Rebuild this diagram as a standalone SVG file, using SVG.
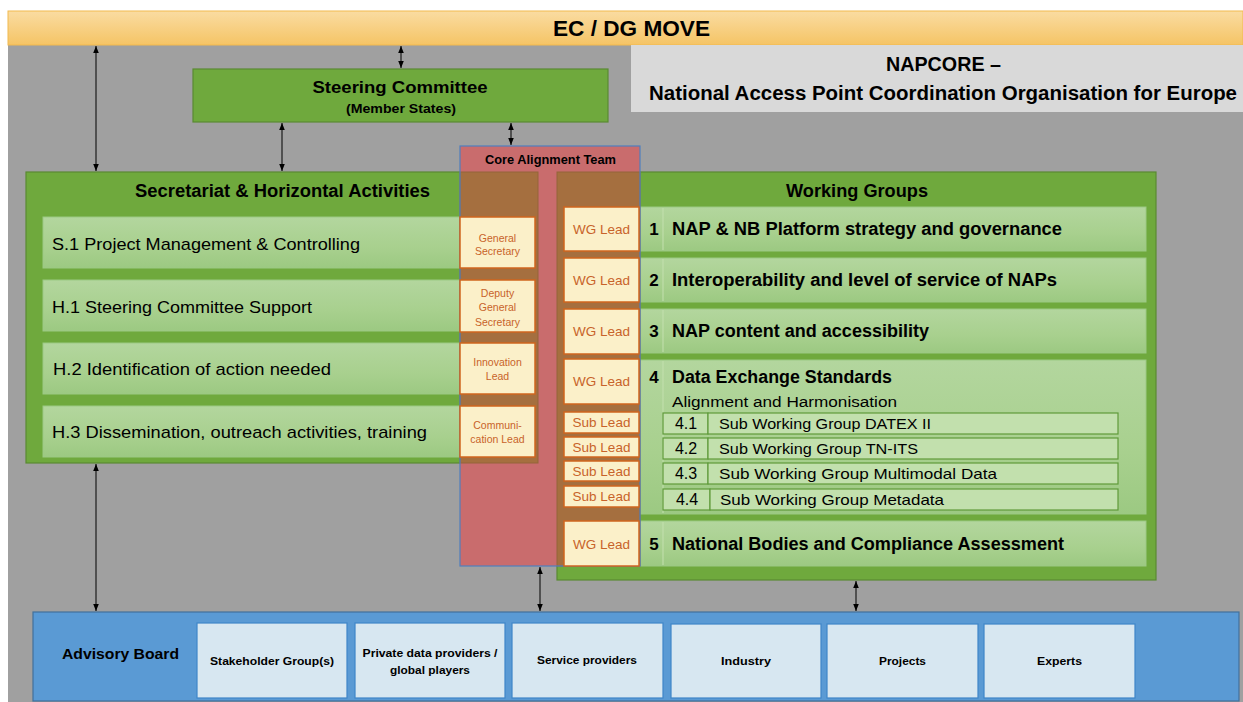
<svg xmlns="http://www.w3.org/2000/svg" width="1243" height="702" viewBox="0 0 1243 702">
<defs>
<linearGradient id="gOr" x1="0" y1="0" x2="0" y2="1"><stop offset="0" stop-color="#fadca2"/><stop offset="1" stop-color="#f5c465"/></linearGradient>
<linearGradient id="gLg" x1="0" y1="0" x2="0" y2="1"><stop offset="0" stop-color="#b3d69e"/><stop offset="0.6" stop-color="#a8d08e"/><stop offset="1" stop-color="#9cc982"/></linearGradient>
<marker id="ah" viewBox="0 0 10 10" refX="10" refY="5" markerWidth="7" markerHeight="7" orient="auto-start-reverse" markerUnits="userSpaceOnUse"><path d="M0,1 L10,5 L0,9 z" fill="#000"/></marker>
</defs>
<style>
text{font-family:"Liberation Sans",Arial,sans-serif;fill:#000}
.b{font-weight:bold}
.green{fill:#6fa93d;stroke:#5a8a32;stroke-width:1.2}
.row{fill:url(#gLg);stroke:#9cc984;stroke-width:1}
.cream{fill:#fbf0c9;stroke:#d0661e;stroke-width:1.5}
.ot{fill:#c8632a;text-anchor:middle}
.sub{fill:#c2e0ad;stroke:#5f9a3a;stroke-width:1.2}
.lb{fill:#d7e7f1;stroke:#3f86c8;stroke-width:1.2}
.conn line{stroke:#000;stroke-width:1;marker-start:url(#ah);marker-end:url(#ah)}
.m{text-anchor:middle}
</style>
<rect x="0" y="0" width="1243" height="702" fill="#ffffff"/>
<rect x="8" y="45" width="1235" height="657" fill="#a0a0a0"/>
<g id="ec-dg-move">
<rect x="8" y="11" width="1235" height="34" fill="url(#gOr)" stroke="#f2b94f" stroke-width="1"/>
<text x="631.5" y="36" class="b m" font-size="22" textLength="157" lengthAdjust="spacingAndGlyphs">EC / DG MOVE</text>
</g>
<g id="napcore-title">
<rect x="631" y="45" width="612" height="67" fill="#d9d9d9"/>
<text x="943.5" y="71" class="b m" font-size="20" textLength="115" lengthAdjust="spacingAndGlyphs">NAPCORE –</text>
<text x="943" y="100" class="b m" font-size="20" textLength="588" lengthAdjust="spacingAndGlyphs">National Access Point Coordination Organisation for Europe</text>
</g>
<g id="steering-committee">
<rect x="193" y="69" width="415" height="53" class="green"/>
<text x="400" y="93" class="b m" font-size="17" textLength="175" lengthAdjust="spacingAndGlyphs">Steering Committee</text>
<text x="401" y="113" class="b m" font-size="12.5" textLength="110" lengthAdjust="spacingAndGlyphs">(Member States)</text>
</g>
<g id="secretariat">
<rect x="26" y="172" width="512" height="291" class="green"/>
<text x="282.5" y="197" class="b m" font-size="17.5" textLength="295" lengthAdjust="spacingAndGlyphs">Secretariat &amp; Horizontal Activities</text>
<rect x="43" y="217" width="417" height="51" class="row"/>
<rect x="43" y="280" width="417" height="51" class="row"/>
<rect x="43" y="343" width="417" height="51" class="row"/>
<rect x="43" y="406" width="417" height="51" class="row"/>
<text x="52" y="250" font-size="17" textLength="308" lengthAdjust="spacingAndGlyphs">S.1 Project Management &amp; Controlling</text>
<text x="52" y="313" font-size="17" textLength="260" lengthAdjust="spacingAndGlyphs">H.1 Steering Committee Support</text>
<text x="53" y="375" font-size="17" textLength="278" lengthAdjust="spacingAndGlyphs">H.2 Identification of action needed</text>
<text x="52" y="438" font-size="17" textLength="375" lengthAdjust="spacingAndGlyphs">H.3 Dissemination, outreach activities, training</text>
</g>
<g id="working-groups">
<rect x="557" y="172" width="599" height="408" class="green"/>
<text x="857" y="197" class="b m" font-size="17.5" textLength="142" lengthAdjust="spacingAndGlyphs">Working Groups</text>
<rect x="639" y="207" width="507" height="44" class="row"/>
<rect x="639" y="258" width="507" height="44" class="row"/>
<rect x="639" y="309" width="507" height="44" class="row"/>
<rect x="639" y="360" width="507" height="154" class="row"/>
<rect x="639" y="521" width="507" height="45" class="row"/>
<g stroke="#c3e0ae" stroke-width="1">
<line x1="663" y1="208" x2="663" y2="250"/>
<line x1="663" y1="259" x2="663" y2="301"/>
<line x1="663" y1="310" x2="663" y2="352"/>
<line x1="663" y1="361" x2="663" y2="513"/>
<line x1="663" y1="522" x2="663" y2="565"/>
</g>
<g class="b" font-size="17">
<text x="654" y="235" class="m">1</text>
<text x="654" y="286" class="m">2</text>
<text x="654" y="337" class="m">3</text>
<text x="654" y="383" class="m">4</text>
<text x="654" y="550" class="m">5</text>
</g>
<g class="b" font-size="18">
<text x="672" y="235" textLength="390" lengthAdjust="spacingAndGlyphs">NAP &amp; NB Platform strategy and governance</text>
<text x="672" y="286" textLength="385" lengthAdjust="spacingAndGlyphs">Interoperability and level of service of NAPs</text>
<text x="672" y="337" textLength="257" lengthAdjust="spacingAndGlyphs">NAP content and accessibility</text>
<text x="672" y="383" textLength="220" lengthAdjust="spacingAndGlyphs">Data Exchange Standards</text>
<text x="672" y="550" textLength="392" lengthAdjust="spacingAndGlyphs">National Bodies and Compliance Assessment</text>
</g>
<text x="672" y="407" font-size="15.5" textLength="225" lengthAdjust="spacingAndGlyphs">Alignment and Harmonisation</text>
<rect x="663" y="413" width="45" height="21" class="sub"/>
<rect x="708" y="413" width="410" height="21" class="sub"/>
<rect x="663" y="438" width="45" height="21" class="sub"/>
<rect x="708" y="438" width="410" height="21" class="sub"/>
<rect x="663" y="463" width="45" height="21" class="sub"/>
<rect x="708" y="463" width="410" height="21" class="sub"/>
<rect x="663" y="489" width="47" height="21" class="sub"/>
<rect x="710" y="489" width="408" height="21" class="sub"/>
<g font-size="16">
<text x="686" y="429" class="m">4.1</text>
<text x="686" y="454" class="m">4.2</text>
<text x="686" y="479" class="m">4.3</text>
<text x="687" y="505" class="m">4.4</text>
</g>
<g font-size="15">
<text x="719" y="429" textLength="212" lengthAdjust="spacingAndGlyphs">Sub Working Group DATEX II</text>
<text x="719" y="454" textLength="199" lengthAdjust="spacingAndGlyphs">Sub Working Group TN-ITS</text>
<text x="719" y="479" textLength="278" lengthAdjust="spacingAndGlyphs">Sub Working Group Multimodal Data</text>
<text x="720" y="505" textLength="224" lengthAdjust="spacingAndGlyphs">Sub Working Group Metadata</text>
</g>
</g>
<g id="core-alignment-team">
<rect x="460" y="146" width="180" height="420" fill="#c96c6d"/>
<rect x="460" y="172" width="78" height="291" fill="#a56f3f" stroke="#94643a" stroke-width="1"/>
<rect x="557" y="172" width="83" height="394" fill="#a56f3f" stroke="#94643a" stroke-width="1"/>
<rect x="460" y="146" width="180" height="420" fill="none" stroke="#4f7fbf" stroke-width="1.2"/>
<text x="550.5" y="164" class="b m" font-size="12" textLength="131" lengthAdjust="spacingAndGlyphs">Core Alignment Team</text>
</g>
<g id="secretariat-roles">
<rect x="460" y="217" width="75" height="51" class="cream"/>
<rect x="460" y="280" width="75" height="52" class="cream"/>
<rect x="460" y="343" width="75" height="51" class="cream"/>
<rect x="460" y="406" width="75" height="51" class="cream"/>
<g font-size="10.5">
<text x="497.5" y="242" class="ot">General</text>
<text x="497.5" y="255" class="ot">Secretary</text>
<text x="497.5" y="297" class="ot">Deputy</text>
<text x="497.5" y="311" class="ot">General</text>
<text x="497.5" y="326" class="ot">Secretary</text>
<text x="497.5" y="366" class="ot">Innovation</text>
<text x="497.5" y="380" class="ot">Lead</text>
<text x="497.5" y="429" class="ot">Communi-</text>
<text x="497.5" y="443" class="ot">cation Lead</text>
</g>
</g>
<g id="wg-leads">
<rect x="564" y="207" width="75" height="44" class="cream"/>
<rect x="564" y="258" width="75" height="44" class="cream"/>
<rect x="564" y="309" width="75" height="45" class="cream"/>
<rect x="564" y="359" width="75" height="45" class="cream"/>
<rect x="564" y="412" width="75" height="21" class="cream"/>
<rect x="564" y="437" width="75" height="20" class="cream"/>
<rect x="564" y="461" width="75" height="20" class="cream"/>
<rect x="564" y="486" width="75" height="21" class="cream"/>
<rect x="564" y="521" width="75" height="45" class="cream"/>
<g font-size="13.5">
<text x="601.5" y="234" class="ot">WG Lead</text>
<text x="601.5" y="285" class="ot">WG Lead</text>
<text x="601.5" y="336" class="ot">WG Lead</text>
<text x="601.5" y="386" class="ot">WG Lead</text>
<text x="601.5" y="427" class="ot">Sub Lead</text>
<text x="601.5" y="452" class="ot">Sub Lead</text>
<text x="601.5" y="476" class="ot">Sub Lead</text>
<text x="601.5" y="501" class="ot">Sub Lead</text>
<text x="601.5" y="549" class="ot">WG Lead</text>
</g>
</g>
<g id="advisory-board">
<rect x="33" y="612" width="1206" height="89" fill="#5a9ad4" stroke="#41719c" stroke-width="1.2"/>
<text x="62" y="659" class="b" font-size="15" textLength="117" lengthAdjust="spacingAndGlyphs">Advisory Board</text>
<rect x="197" y="623" width="150" height="75" class="lb"/>
<rect x="355" y="623" width="150" height="75" class="lb"/>
<rect x="512" y="623" width="151" height="75" class="lb"/>
<rect x="671" y="624" width="150" height="74" class="lb"/>
<rect x="827" y="624" width="151" height="74" class="lb"/>
<rect x="984" y="624" width="151" height="74" class="lb"/>
<g class="b" font-size="11.5">
<text x="272" y="665" class="m" textLength="124" lengthAdjust="spacingAndGlyphs">Stakeholder Group(s)</text>
<text x="430" y="657" class="m" textLength="135" lengthAdjust="spacingAndGlyphs">Private data providers /</text>
<text x="430" y="674" class="m" textLength="80" lengthAdjust="spacingAndGlyphs">global players</text>
<text x="587" y="664" class="m" textLength="100" lengthAdjust="spacingAndGlyphs">Service providers</text>
<text x="746" y="665" class="m" textLength="50" lengthAdjust="spacingAndGlyphs">Industry</text>
<text x="902.5" y="665" class="m" textLength="47" lengthAdjust="spacingAndGlyphs">Projects</text>
<text x="1059.5" y="665" class="m" textLength="45" lengthAdjust="spacingAndGlyphs">Experts</text>
</g>
</g>
<g id="connectors" class="conn">
<line x1="96" y1="46" x2="96" y2="171"/>
<line x1="401" y1="46" x2="401" y2="68"/>
<line x1="282" y1="123" x2="282" y2="171"/>
<line x1="511" y1="123" x2="511" y2="145"/>
<line x1="96" y1="464" x2="96" y2="611"/>
<line x1="540" y1="567" x2="540" y2="611"/>
<line x1="856" y1="581" x2="856" y2="611"/>
</g>
</svg>
